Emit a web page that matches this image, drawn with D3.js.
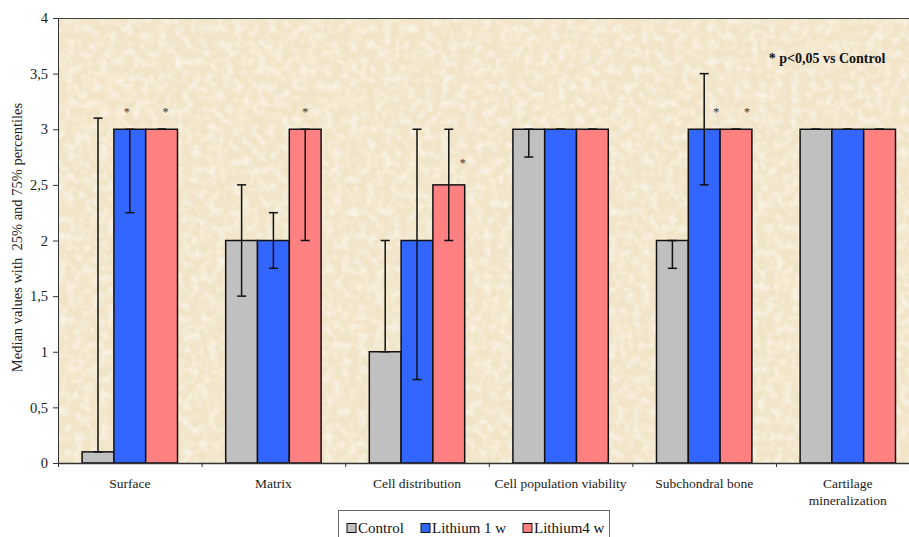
<!DOCTYPE html>
<html>
<head>
<meta charset="utf-8">
<script src="https://cdn.jsdelivr.net/npm/d3@7"></script>
<style>
  body { margin: 0; background: #fff; }
  svg { display: block; font-family: "Liberation Serif", "DejaVu Serif", serif; }
</style>
</head>
<body>
<div id="chart"></div>
<script>
// datos
const categories = ["Surface", "Matrix", "Cell distribution", "Cell population viability", "Subchondral bone", "Cartilage mineralization"]
const tickLabels = [["Surface"], ["Matrix"], ["Cell distribution"], ["Cell population viability"], ["Subchondral bone"], ["Cartilage", "mineralization"]]
const seriesNames = ["Control", "Lithium 1 w", "Lithium4 w"]

const control = [0.1, 2, 1, 3, 2, 3]
const lithium1w = [3, 2, 2, 3, 3, 3]
const lithium4w = [3, 3, 2.5, 3, 3, 3]

// percentiles 25 / 75
const controlP25 = [0.1, 1.5, 1, 2.75, 1.75, 3]
const controlP75 = [3.1, 2.5, 2, 3, 2, 3]
const lithium1wP25 = [2.25, 1.75, 0.75, 3, 2.5, 3]
const lithium1wP75 = [3, 2.25, 3, 3, 3.5, 3]
const lithium4wP25 = [3, 2, 2, 3, 3, 3]
const lithium4wP75 = [3, 3, 3, 3, 3, 3]

const yTicks = [0, 0.5, 1, 1.5, 2, 2.5, 3, 3.5, 4]

// asteriscos: [categoria, serie, altura]
const stars = [[0, 1, 3.18], [0, 2, 3.18], [1, 2, 3.18], [2, 2, 2.72], [4, 1, 3.18], [4, 2, 3.18]]
const starDx = [-3, 4, 0, 14, 12, 11] // colocados a mano en el original

const colors = ["#c0c0c0", "#3366ff", "#ff8080"]

const width = 909
const height = 537
const margin = { top: 18, left: 58 }
const groupStep = 143.6

const svg = d3.select("#chart").append("svg").attr("width", width).attr("height", height)

// textura de papel
const defs = svg.append("defs")
const filter = defs.append("filter").attr("id", "paper").attr("x", 0).attr("y", 0).attr("width", "100%").attr("height", "100%")
filter.append("feTurbulence").attr("type", "fractalNoise").attr("baseFrequency", 0.014).attr("numOctaves", 5).attr("seed", 11).attr("result", "noise")
filter.append("feColorMatrix").attr("in", "noise").attr("type", "matrix")
  .attr("values", "0 0 0 0 0.89  0 0 0 0 0.79  0 0 0 0 0.58  1.8 0 0 0 -0.72").attr("result", "tint")
filter.append("feTurbulence").attr("type", "fractalNoise").attr("baseFrequency", 0.12).attr("numOctaves", 3).attr("seed", 3).attr("result", "fine")
filter.append("feColorMatrix").attr("in", "fine").attr("type", "matrix")
  .attr("values", "0 0 0 0 0.98  0 0 0 0 0.95  0 0 0 0 0.87  1.6 0 0 0 -0.65").attr("result", "speck")
const merge = filter.append("feMerge").attr("result", "m")
merge.append("feMergeNode").attr("in", "SourceGraphic")
merge.append("feMergeNode").attr("in", "tint")
merge.append("feMergeNode").attr("in", "speck")
filter.append("feComposite").attr("in", "m").attr("in2", "SourceGraphic").attr("operator", "in")

const x = d3.scaleBand().domain(categories).range([margin.left, margin.left + groupStep * categories.length])
const xInner = d3.scaleBand().domain(seriesNames).range([0, x.bandwidth()]).paddingOuter(0.758)
const y = d3.scaleLinear().domain([0, 4]).range([463, margin.top])

svg.append("rect")
  .attr("x", margin.left).attr("y", margin.top)
  .attr("width", width - margin.left).attr("height", y(0) - margin.top)
  .attr("fill", "#f1e4c8").attr("filter", "url(#paper)")

svg.append("line").attr("x1", margin.left).attr("x2", width).attr("y1", margin.top + 0.5).attr("y2", margin.top + 0.5)
  .attr("stroke", "#444").attr("stroke-width", 1)

// datos en filas
const values = [control, lithium1w, lithium4w]
const p25 = [controlP25, lithium1wP25, lithium4wP25]
const p75 = [controlP75, lithium1wP75, lithium4wP75]
const rows = []
categories.forEach((c, i) => {
  seriesNames.forEach((s, j) => {
    rows.push({ cat: c, ser: s, j: j, v: values[j][i], lo: p25[j][i], hi: p75[j][i] })
  })
})

const elementGroup = svg.append("g")
elementGroup.selectAll("rect").data(rows).enter().append("rect")
  .attr("x", d => x(d.cat) + xInner(d.ser))
  .attr("y", d => y(d.v))
  .attr("width", xInner.bandwidth())
  .attr("height", d => y(0) - y(d.v))
  .attr("fill", d => colors[d.j])
  .attr("stroke", "#111").attr("stroke-width", 1.5)

// barras de error
const errGroup = svg.append("g").attr("stroke", "#111").attr("stroke-width", 1.5)
rows.forEach(d => {
  const cx = x(d.cat) + xInner(d.ser) + xInner.bandwidth() / 2
  errGroup.append("line").attr("x1", cx).attr("x2", cx).attr("y1", y(d.lo)).attr("y2", y(d.hi))
  errGroup.append("line").attr("x1", cx - 4.5).attr("x2", cx + 4.5).attr("y1", y(d.lo)).attr("y2", y(d.lo))
  errGroup.append("line").attr("x1", cx - 4.5).attr("x2", cx + 4.5).attr("y1", y(d.hi)).attr("y2", y(d.hi))
})

// asteriscos
stars.forEach((s, k) => {
  const cat = categories[s[0]], ser = seriesNames[s[1]]
  svg.append("text")
    .attr("x", x(cat) + xInner(ser) + xInner.bandwidth() / 2 + starDx[k])
    .attr("y", y(s[2]) + 7)
    .attr("text-anchor", "middle").attr("font-size", 12).attr("fill", "#333")
    .text("*")
})

svg.append("text").attr("x", 827).attr("y", 63).attr("text-anchor", "middle")
  .attr("font-size", 14).attr("font-weight", "bold").attr("fill", "#111")
  .text("* p<0,05 vs Control")

// ejes
const yAxis = d3.axisLeft(y).tickValues(yTicks).tickSize(5).tickSizeOuter(0)
  .tickFormat(d => String(d).replace(".", ","))
const yAxisGroup = svg.append("g").attr("transform", `translate(${margin.left},0)`).call(yAxis)
yAxisGroup.selectAll("text").attr("font-size", 14.5).attr("fill", "#222").attr("font-family", "Liberation Serif").attr("dx", -2)
yAxisGroup.selectAll("line, path").attr("stroke", "#333")

const xTick = d3.scaleLinear().domain([0, categories.length]).range(x.range())
const xAxis = d3.axisBottom(xTick).ticks(categories.length).tickSize(4).tickSizeOuter(0).tickFormat("")
const xAxisGroup = svg.append("g").attr("transform", `translate(0,${y(0)})`).call(xAxis)
xAxisGroup.selectAll("line, path").attr("stroke", "#333")
xAxisGroup.select("path").attr("stroke-width", 1.5)

categories.forEach((c, i) => {
  const t = svg.append("text").attr("text-anchor", "middle").attr("font-size", 13.5).attr("fill", "#222")
    .attr("x", x(c) + x.bandwidth() / 2).attr("y", 488)
  tickLabels[i].forEach((l, k) => {
    t.append("tspan").attr("x", x(c) + x.bandwidth() / 2).attr("dy", k === 0 ? 0 : 17).text(l)
  })
})

svg.append("text")
  .attr("transform", `translate(22,${(y(0) + margin.top) / 2 - 3}) rotate(-90)`)
  .attr("text-anchor", "middle").attr("font-size", 14.5).attr("fill", "#222")
  .attr("xml:space", "preserve")
  .text("Median values with  25% and 75% percentiles")

// leyenda
const legend = svg.append("g")
legend.append("rect").attr("x", 338.5).attr("y", 510.5).attr("width", 271).attr("height", 40)
  .attr("fill", "#fff").attr("stroke", "#666")
const legendX = [347, 421, 523]
seriesNames.forEach((s, j) => {
  legend.append("rect").attr("x", legendX[j]).attr("y", 523.5).attr("width", 9).attr("height", 9)
    .attr("fill", colors[j]).attr("stroke", "#111").attr("stroke-width", 1)
  legend.append("text").attr("x", legendX[j] + 11).attr("y", 533).attr("font-size", 15).attr("fill", "#111").text(s)
})
</script>
</body>
</html>
